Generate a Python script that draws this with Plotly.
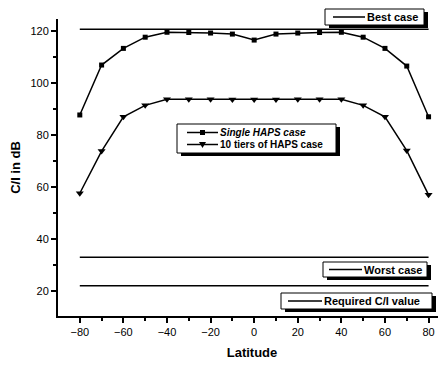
import plotly.graph_objects as go

latitude = [-80, -70, -60, -50, -40, -30, -20, -10, 0, 10, 20, 30, 40, 50, 60, 70, 80]
single_haps = [87.7, 106.9, 113.3, 117.6, 119.5, 119.4, 119.2, 118.8, 116.5, 118.8, 119.2, 119.4, 119.5, 117.6, 113.3, 106.5, 87.0]
tiers_haps = [57.6, 73.8, 87.0, 91.4, 93.7, 93.7, 93.7, 93.6, 93.6, 93.6, 93.7, 93.7, 93.7, 91.4, 87.0, 74.0, 57.0]
line_x = [-80, 80]
best_case = 120.7
worst_case = 33.0
required_ci = 22.0
x_ticks = [-80, -60, -40, -20, 0, 20, 40, 60, 80]
y_ticks = [20, 40, 60, 80, 100, 120]

FONT = "Liberation Sans, Arial, sans-serif"
LW = 1.5

fig = go.Figure()
fig.add_trace(go.Scatter(x=line_x, y=[best_case, best_case], mode="lines",
                         line=dict(color="black", width=LW), name="Best case"))
fig.add_trace(go.Scatter(x=latitude, y=single_haps, mode="lines+markers",
                         line=dict(color="black", width=LW),
                         marker=dict(symbol="square", size=5, color="black"),
                         name="Single HAPS case"))
fig.add_trace(go.Scatter(x=latitude, y=tiers_haps, mode="lines+markers",
                         line=dict(color="black", width=LW),
                         marker=dict(symbol="triangle-down", size=7, color="black"),
                         name="10 tiers of HAPS case"))
fig.add_trace(go.Scatter(x=line_x, y=[worst_case, worst_case], mode="lines",
                         line=dict(color="black", width=LW), name="Worst case"))
fig.add_trace(go.Scatter(x=line_x, y=[required_ci, required_ci], mode="lines",
                         line=dict(color="black", width=LW), name="Required C/I value"))

# ---- boxed legends (drawn as shapes + text, positions in paper space) ----
def X(px):
    return (px - 58) / 388.0

def Y(py):
    return (316 - py) / 297.0

shapes = []
annotations = []

def legend_box(x0, y0, x1, y1, sx=4, sy=3):
    shapes.append(dict(type="rect", xref="paper", yref="paper", layer="above",
                       x0=X(x0 + sx), x1=X(x1 + sx), y0=Y(y1 + sy), y1=Y(y0 + sy),
                       fillcolor="black", line=dict(width=0)))
    shapes.append(dict(type="rect", xref="paper", yref="paper", layer="above",
                       x0=X(x0), x1=X(x1), y0=Y(y1), y1=Y(y0),
                       fillcolor="white", line=dict(color="black", width=1)))

def legend_entry(x0, x1, y, text, symbol=None, size=11):
    shapes.append(dict(type="line", xref="paper", yref="paper", layer="above",
                       x0=X(x0), x1=X(x1), y0=Y(y), y1=Y(y),
                       line=dict(color="black", width=LW)))
    xc = (x0 + x1) / 2
    if symbol == "square":
        shapes.append(dict(type="rect", xref="paper", yref="paper", layer="above",
                           x0=X(xc - 2.5), x1=X(xc + 2.5), y0=Y(y + 2.5), y1=Y(y - 2.5),
                           fillcolor="black", line=dict(width=0)))
    elif symbol == "triangle-down":
        path = "M {} {} L {} {} L {} {} Z".format(X(xc - 3.5), Y(y - 2.5), X(xc + 3.5), Y(y - 2.5),
                                                  X(xc), Y(y + 3.5))
        shapes.append(dict(type="path", xref="paper", yref="paper", layer="above", path=path,
                           fillcolor="black", line=dict(width=0)))
    annotations.append(dict(xref="paper", yref="paper", x=X(x1 + 1), y=Y(y), xanchor="left",
                            yanchor="middle", text=text, showarrow=False, borderpad=0,
                            font=dict(family=FONT, size=size, color="black", weight="bold")))

legend_box(325, 9, 424, 25)
legend_entry(333, 365, 17, "Best case")

legend_box(177, 124, 336, 153)
legend_entry(187, 218, 132.5, "<i>Single HAPS case</i>", "square", size=10)
legend_entry(187, 218, 144.5, "10 tiers of HAPS case", "triangle-down", size=10)

legend_box(323, 262, 427, 277)
legend_entry(329, 362, 269.5, "Worst case")

legend_box(281, 293, 432, 309)
legend_entry(288, 322, 301, "Required C/I value")

fig.update_layout(
    width=438, height=358,
    margin=dict(l=50, r=0, t=11, b=50, autoexpand=False),
    paper_bgcolor="white", plot_bgcolor="white",
    showlegend=False,
    shapes=shapes, annotations=annotations,
    xaxis=dict(range=[-90, 88], tickvals=x_ticks,
               automargin=False,
               ticks="outside", ticklen=5, tickwidth=1.5, tickcolor="black",
               showline=True, linecolor="black", linewidth=2, showgrid=False, zeroline=False,
               minor=dict(tickvals=[-70, -50, -30, -10, 10, 30, 50, 70], ticks="outside",
                          ticklen=3, tickwidth=1.5, tickcolor="black", showgrid=False),
               tickfont=dict(family=FONT, size=11, color="black"),
               title=dict(text="Latitude", font=dict(family=FONT, size=13, color="black", weight="bold"),
                          standoff=11)),
    yaxis=dict(range=[10.4, 124.6], tickvals=y_ticks,
               automargin=False,
               ticks="outside", ticklen=5, tickwidth=1.5, tickcolor="black",
               showline=True, linecolor="black", linewidth=2, showgrid=False, zeroline=False,
               minor=dict(tickvals=[30, 50, 70, 90, 110], ticks="outside",
                          ticklen=3, tickwidth=1.5, tickcolor="black", showgrid=False),
               tickfont=dict(family=FONT, size=11, color="black"),
               title=dict(text="C/I in dB", font=dict(family=FONT, size=13, color="black", weight="bold"),
                          standoff=8)),
)

fig.write_html("out.html")
